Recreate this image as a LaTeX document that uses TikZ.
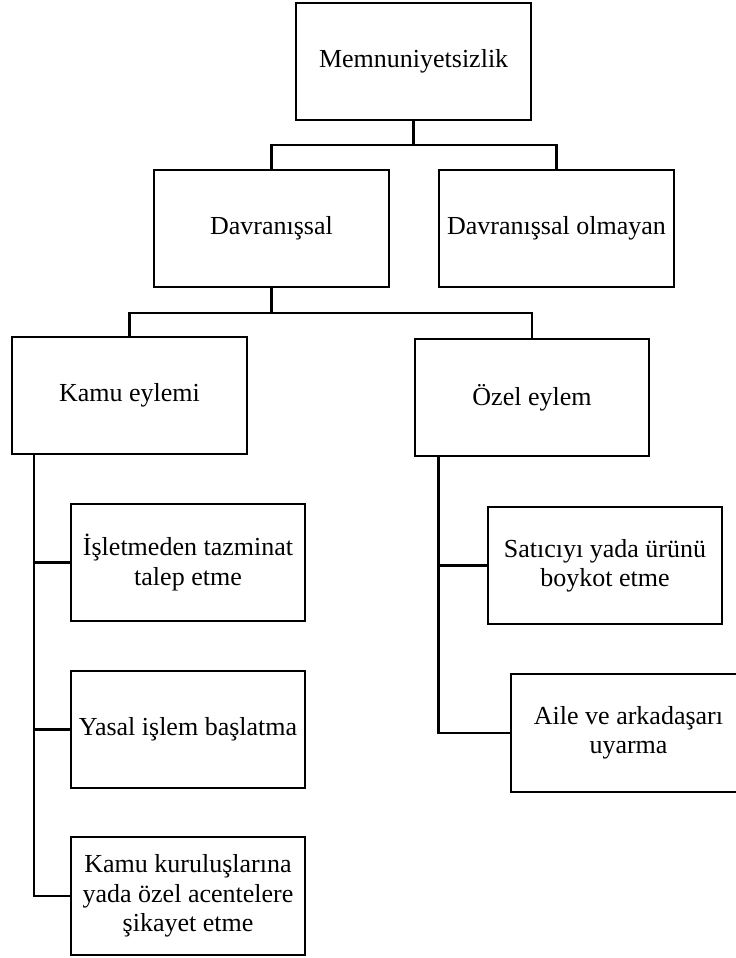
\documentclass[tikz,border=0pt]{standalone}
\usepackage{fontspec}
\setmainfont{Liberation Serif}
\usetikzlibrary{calc}
\tikzset{
  box/.style={draw, line width=1.7pt, rectangle, inner sep=0pt,
    minimum width=176pt, minimum height=88pt, align=center,
    font=\fontsize{19.5}{22}\selectfont},
  link/.style={draw, line width=1.7pt}
}
\begin{document}
\begin{tikzpicture}[x=0.75pt, y=-0.75pt]
  \useasboundingbox (0,0) rectangle (736,958);
  \clip (0,0) rectangle (736,958);

  % top levels
  \node[box] (memnun)  at (413.6,61.5)  {Memnuniyetsizlik};
  \node[box] (davr)    at (271.5,228.5) {Davranışsal};
  \node[box] (olmayan) at (556.5,228.5) {Davranışsal olmayan};

  % second level
  \node[box] (kamu) at (129.5,395.5) {Kamu eylemi};
  \node[box] (ozel) at (532,397.5)   {Özel eylem};

  % public actions
  \node[box] (islet)   at (188,562.5) {İşletmeden tazminat\\talep etme};
  \node[box] (yasal)   at (188,729.5) {Yasal işlem başlatma};
  \node[box] (kamukur) at (188,896)   {Kamu kuruluşlarına\\yada özel acentelere\\şikayet etme};

  % private actions
  \node[box] (satici) at (605,565.5) {Satıcıyı yada ürünü\\boykot etme};
  \node[box] (aile)   at (628.5,733) {Aile ve arkadaşarı\\uyarma};

  % junctions
  \coordinate (j1) at (memnun.south |- 0,145);
  \coordinate (j2) at (davr.south |- 0,313);
  \coordinate (kt) at ($(kamu.south west)+(23,0)$);
  \coordinate (ot) at ($(ozel.south west)+(25,0)$);

  % connectors
  \draw[link] (memnun.south) -- (j1);
  \draw[link] (davr.north) |- (j1) -| (olmayan.north);
  \draw[link] (davr.south) -- (j2);
  \draw[link] (kamu.north) |- (j2) -| (ozel.north);

  \draw[link] (kt) |- (kamukur.west);
  \draw[link] (kt |- islet.west) -- (islet.west);
  \draw[link] (kt |- yasal.west) -- (yasal.west);

  \draw[link] (ot) |- (aile.west);
  \draw[link] (ot |- satici.west) -- (satici.west);
\end{tikzpicture}
\end{document}
